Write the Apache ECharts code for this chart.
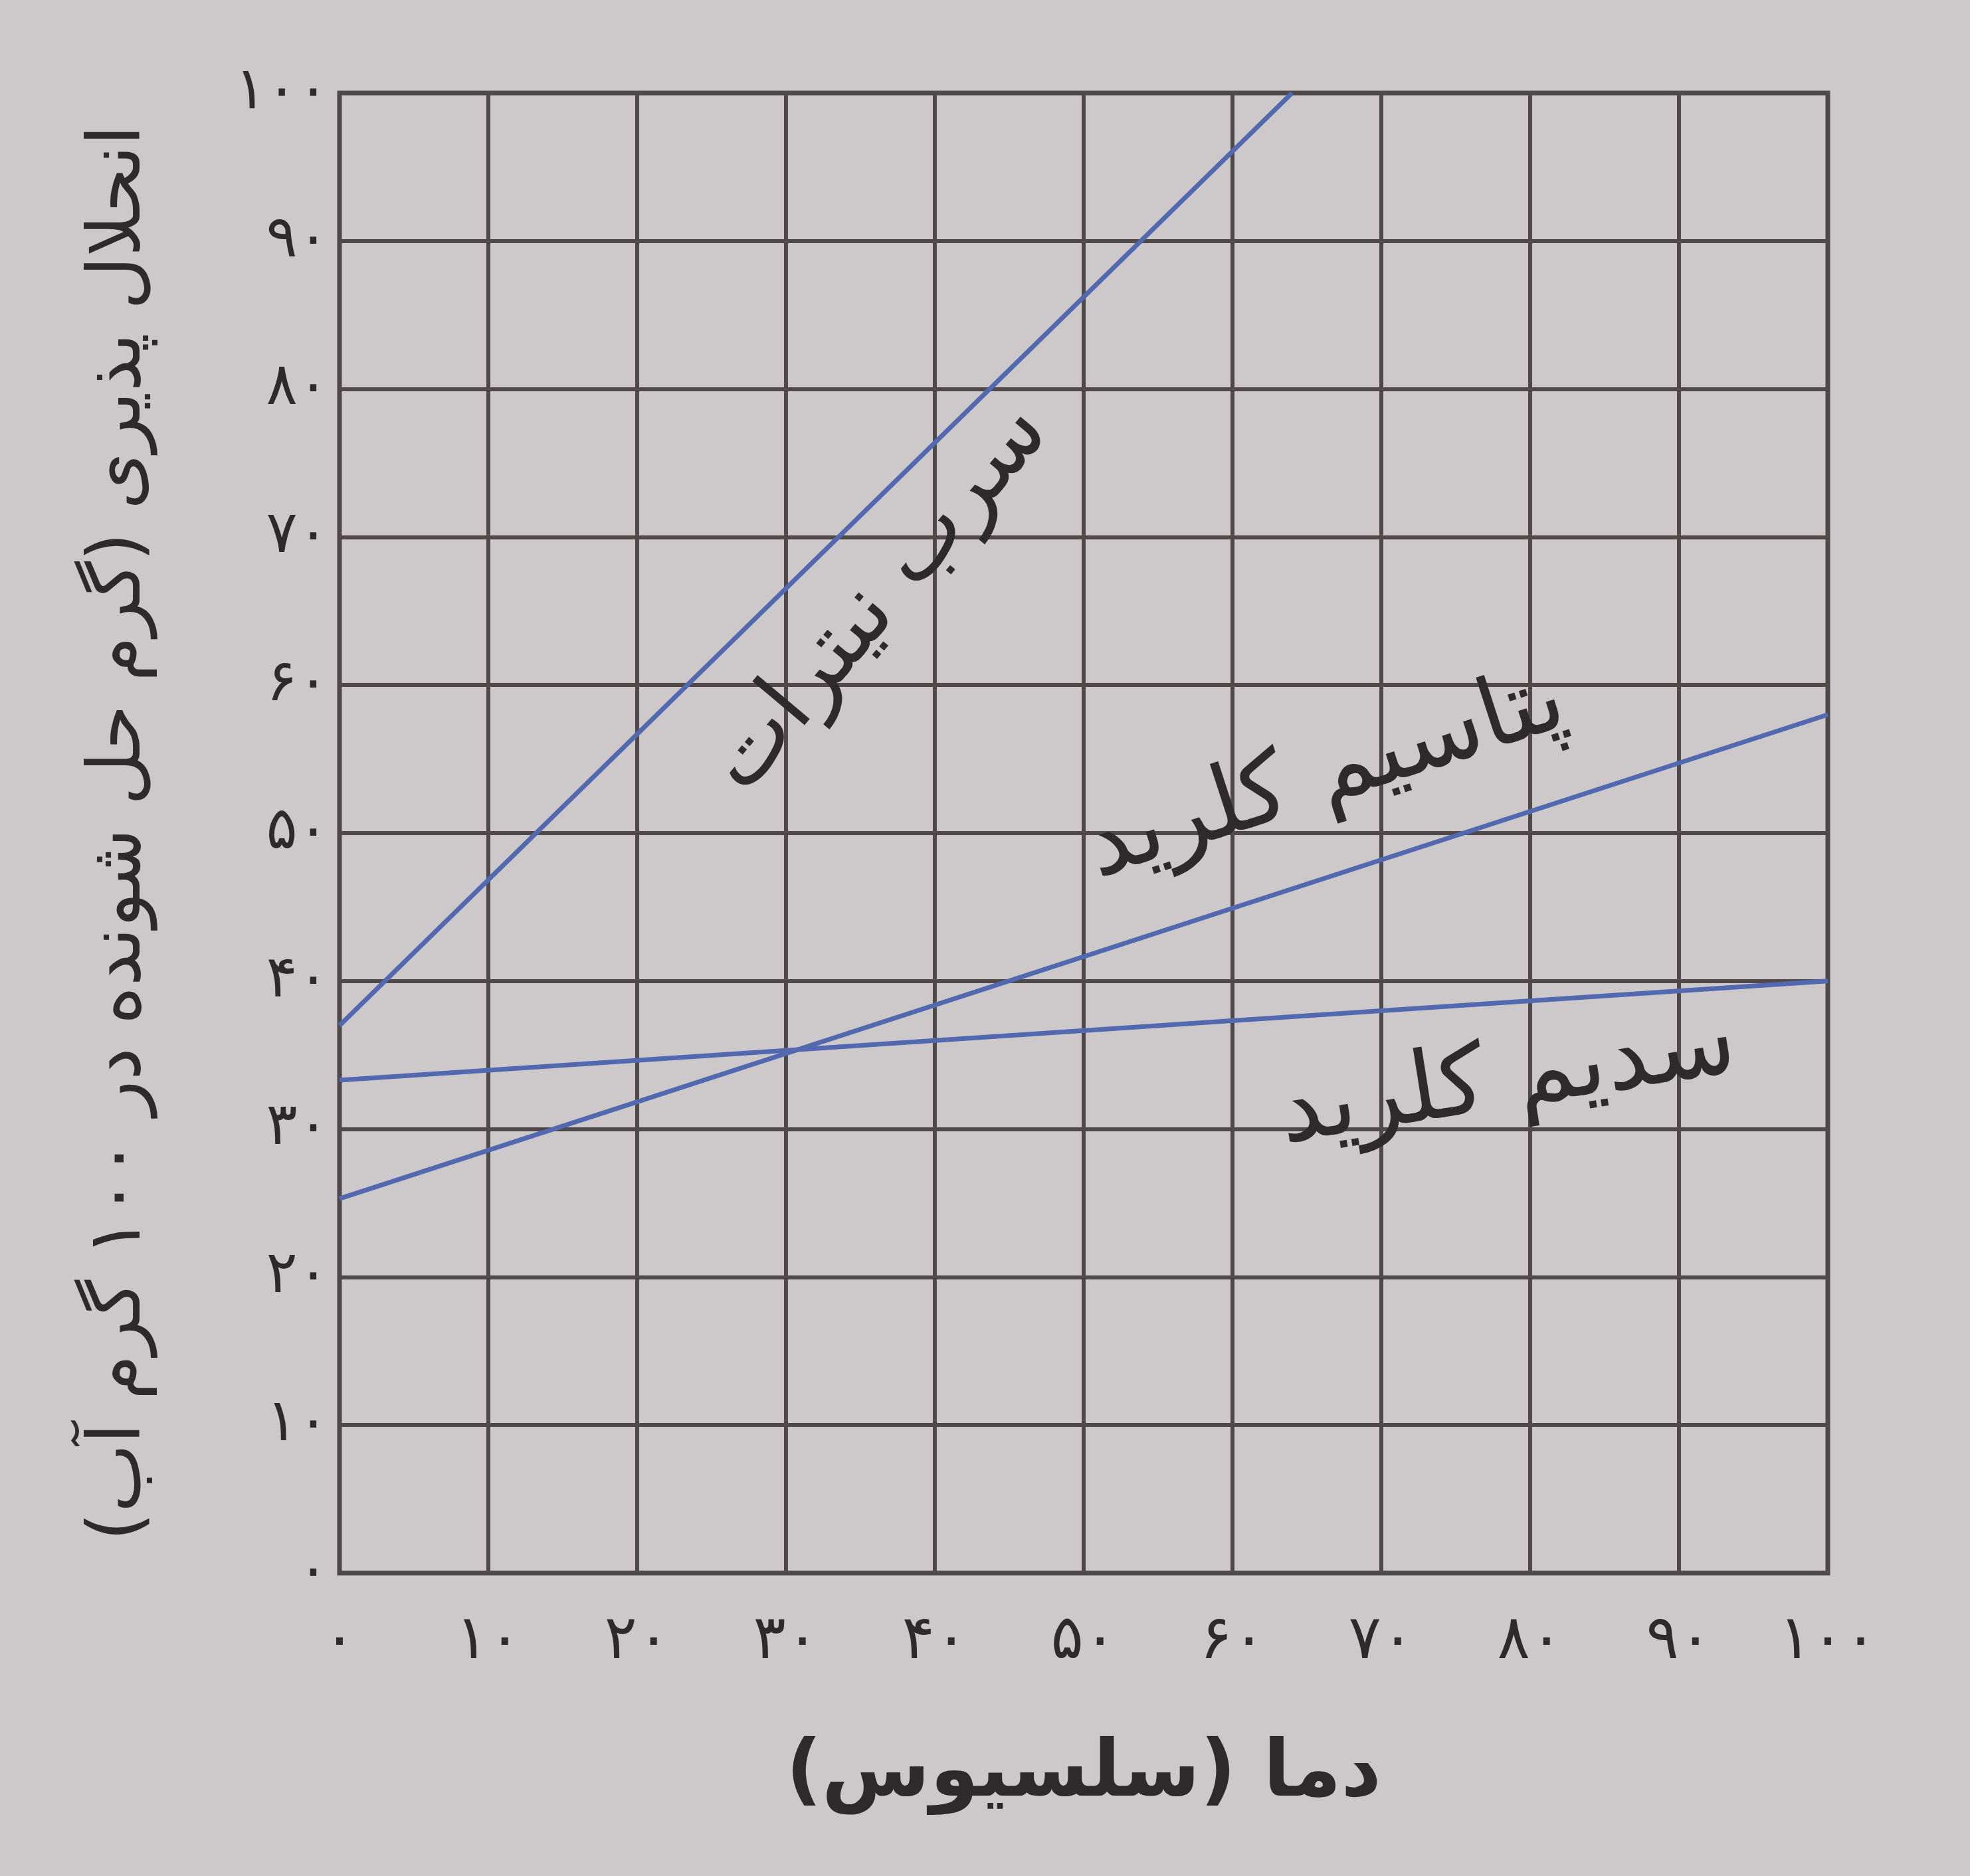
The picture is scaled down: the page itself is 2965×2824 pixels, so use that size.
<!DOCTYPE html>
<html><head><meta charset="utf-8">
<script src="https://cdn.jsdelivr.net/npm/echarts@6/dist/echarts.min.js"></script>
<style>html,body{margin:0;padding:0;background:#cdc9ca}#c{width:2965px;height:2824px}</style>
</head><body><div id="c"></div>
<script>
// ---- data ----
const xTickLabels = ['۰','۱۰','۲۰','۳۰','۴۰','۵۰','۶۰','۷۰','۸۰','۹۰','۱۰۰'];
const yTickLabels = ['۰','۱۰','۲۰','۳۰','۴۰','۵۰','۶۰','۷۰','۸۰','۹۰','۱۰۰'];
const seriesNames = ['سرب نیترات', 'پتاسیم کلرید', 'سدیم کلرید'];
const leadNitrateTemp = [0, 64];
const leadNitrateSol = [37, 100];
const potassiumChlorideTemp = [0, 100];
const potassiumChlorideSol = [25.3, 58];
const sodiumChlorideTemp = [0, 100];
const sodiumChlorideSol = [33.3, 40];
const xAxisTitle = 'دما (سلسیوس)';
const yAxisTitle = 'انحلال پذیری (گرم حل شونده در ۱۰۰ گرم آب)';

const FONT = 'DejaVu Sans';
const INK = '#2e2a2b';
const GRIDC = '#4f494a';
const BLUE = '#5269b0';

function pairs(xs, ys) { return xs.map((x, i) => [x, ys[i]]); }

const chart = echarts.init(document.getElementById('c'), null, {renderer: 'canvas'});
const lineStyle = {color: BLUE, width: 7};
chart.setOption({
  backgroundColor: '#cdc9ca',
  animation: false,
  grid: {left: 511, right: 214, top: 140, bottom: 456, show: true,
         borderColor: GRIDC, borderWidth: 7, backgroundColor: 'transparent'},
  xAxis: {
    type: 'value', min: 0, max: 100, interval: 10,
    axisLine: {show: false}, axisTick: {show: false},
    splitLine: {show: true, lineStyle: {color: GRIDC, width: 6}},
    axisLabel: {margin: 58, fontFamily: FONT, fontSize: 92, color: INK,
      formatter: v => xTickLabels[Math.round(v / 10)]},
    name: xAxisTitle, nameLocation: 'middle', nameGap: 245,
    nameTextStyle: {fontFamily: FONT, fontSize: 118, fontWeight: 'bold', color: INK}
  },
  yAxis: {
    type: 'value', min: 0, max: 100, interval: 10,
    axisLine: {show: false}, axisTick: {show: false},
    splitLine: {show: true, lineStyle: {color: GRIDC, width: 6}},
    axisLabel: {margin: 16, fontFamily: FONT, fontSize: 88, color: INK,
      formatter: v => yTickLabels[Math.round(v / 10)]},
    name: yAxisTitle, nameLocation: 'middle', nameGap: 275, nameRotate: 90,
    nameTextStyle: {fontFamily: FONT, fontSize: 110, color: INK}
  },
  series: [
    {name: seriesNames[0], type: 'line', data: pairs(leadNitrateTemp, leadNitrateSol),
     showSymbol: false, lineStyle: lineStyle, clip: true},
    {name: seriesNames[1], type: 'line', data: pairs(potassiumChlorideTemp, potassiumChlorideSol),
     showSymbol: false, lineStyle: lineStyle, clip: true},
    {name: seriesNames[2], type: 'line', data: pairs(sodiumChlorideTemp, sodiumChlorideSol),
     showSymbol: false, lineStyle: lineStyle, clip: true}
  ]
});

// line labels, anchored in data coordinates
const labelSpecs = [
  {text: seriesNames[0], at: [36.3, 65.8], rot: 50, size: 135},
  {text: seriesNames[1], at: [66.3, 53.8], rot: 18, size: 145},
  {text: seriesNames[2], at: [78.5, 33.2], rot: 9, size: 145}
];
chart.setOption({
  graphic: labelSpecs.map(s => {
    const p = chart.convertToPixel({gridIndex: 0}, s.at);
    return {type: 'text', x: p[0], y: p[1], rotation: s.rot * Math.PI / 180, z: 10,
      style: {text: s.text, fill: INK, font: s.size + 'px "' + FONT + '"',
              textAlign: 'center', textVerticalAlign: 'middle'}};
  })
});
</script></body></html>
